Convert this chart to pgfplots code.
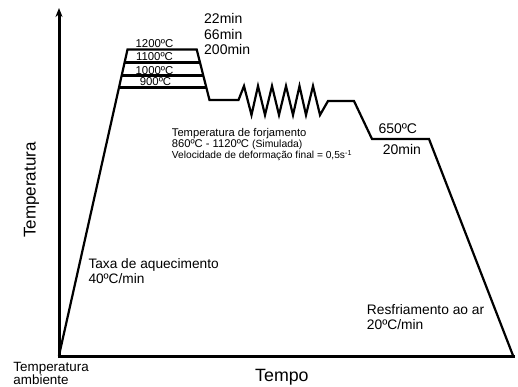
\documentclass[border=0pt]{standalone}
\usepackage{pgfplots}
\pgfplotsset{compat=1.18}
\usetikzlibrary{arrows.meta}
\usepackage{fontspec}
\setmainfont{Liberation Sans}
\newcommand{\fs}[1]{\fontsize{#1bp}{#1bp}\selectfont}
\begin{document}
\begin{tikzpicture}
\useasboundingbox (0,0) rectangle (518bp,387bp);
\begin{axis}[
  width=518bp, height=387bp, scale only axis,
  xmin=0, xmax=518, ymin=0, ymax=387, y dir=reverse,
  hide axis, clip=false,
]
% axes
\addplot[line width=3bp, -{Stealth[length=9bp,width=7bp]}, black] coordinates {(59,358) (59,8)};
\addplot[line width=3bp, black] coordinates {(57.5,356.5) (515,356.5)};
% main thermal cycle
\addplot[line width=2.2bp, black, line join=miter] coordinates {
(59,355.5) (127.5,49.5) (196.7,49.5) (209.5,100) (238.5,100)
(244,86) (251.5,115) (258,86) (265,115) (272,86) (279,115) (286,86)
(293,115) (299.5,86) (306,115) (313,86) (320,115) (328,101)
(354,101) (372,139) (429,139) (513,355.5)};
% soaking levels
\addplot[line width=2.2bp, black] coordinates {(124.6,62.5) (200.0,62.5)};
\addplot[line width=2.2bp, black] coordinates {(121.6,75.5) (203.3,75.5)};
\addplot[line width=2.2bp, black] coordinates {(118.9,87.4) (206.3,87.4)};
% texts
\node[anchor=base west,inner sep=0] at (axis cs:204,24) {\fs{14}22min};
\node[anchor=base west,inner sep=0] at (axis cs:204,39.3) {\fs{14}66min};
\node[anchor=base west,inner sep=0] at (axis cs:204,54.3) {\fs{14}200min};
\node[anchor=base,inner sep=0] at (axis cs:154.5,47.3) {\fs{11.4}1200ºC};
\node[anchor=base,inner sep=0] at (axis cs:154.5,60.7) {\fs{11.4}1100ºC};
\node[anchor=base,inner sep=0] at (axis cs:154.5,74) {\fs{11.4}1000ºC};
\node[anchor=base,inner sep=0] at (axis cs:155.5,85.5) {\fs{11.4}900ºC};
\node[anchor=base west,inner sep=0] at (axis cs:171.7,136.8) {\fs{11.2}Temperatura de forjamento};
\node[anchor=base west,inner sep=0] at (axis cs:171.7,147.6) {\fs{11.2}860ºC - 1120ºC {\fs{10.4}(Simulada)}};
\node[anchor=base west,inner sep=0] at (axis cs:171.7,158.8) {\fs{10.2}Velocidade de deformação final = 0,5s\textsuperscript{-1}};
\node[anchor=base west,inner sep=0] at (axis cs:378.3,133.3) {\fs{14}650ºC};
\node[anchor=base west,inner sep=0] at (axis cs:382.7,154.3) {\fs{14}20min};
\node[anchor=base west,inner sep=0] at (axis cs:88.3,268.3) {\fs{13.7}Taxa de aquecimento};
\node[anchor=base west,inner sep=0] at (axis cs:88.3,283.3) {\fs{13.7}40ºC/min};
\node[anchor=base west,inner sep=0] at (axis cs:366.7,314) {\fs{13.8}Resfriamento ao ar};
\node[anchor=base west,inner sep=0] at (axis cs:366.7,329.3) {\fs{13.8}20ºC/min};
\node[anchor=base west,inner sep=0] at (axis cs:13.3,371.5) {\fs{13.4}Temperatura};
\node[anchor=base west,inner sep=0] at (axis cs:13.3,384.5) {\fs{13.4}ambiente};
\node[anchor=base west,inner sep=0] at (axis cs:255,381.7) {\fs{17.8}Tempo};
\node[anchor=base,inner sep=0,rotate=90] at (axis cs:35.5,190) {\fs{17}Temperatura};
\end{axis}
\end{tikzpicture}
\end{document}
